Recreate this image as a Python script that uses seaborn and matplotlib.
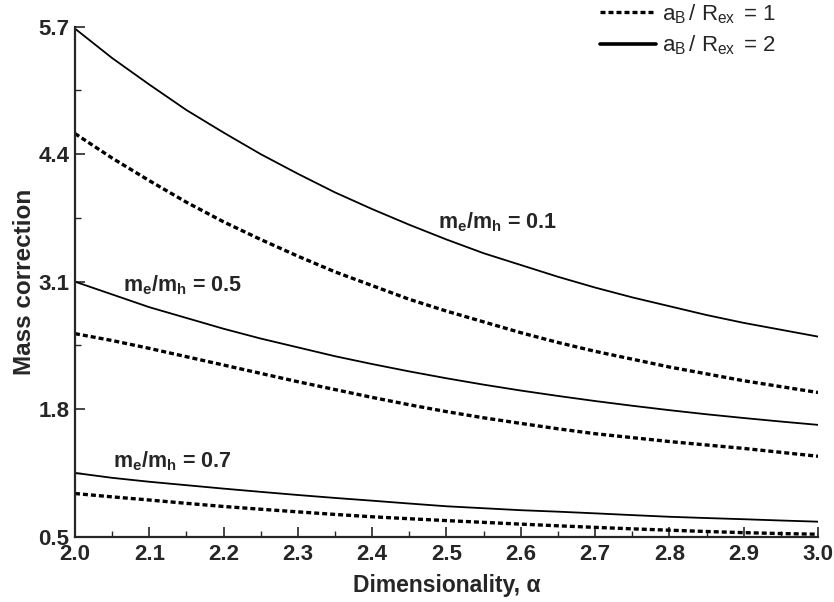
import matplotlib
matplotlib.use("Agg")
import matplotlib.pyplot as plt
import pandas as pd
import numpy as np
import seaborn as sns
from matplotlib.lines import Line2D
from matplotlib.ticker import MultipleLocator, FixedLocator, FormatStrFormatter

# data (every 0.05 in alpha)
alpha = [2.00, 2.05, 2.10, 2.15, 2.20, 2.25, 2.30, 2.35, 2.40, 2.45, 2.50,
         2.55, 2.60, 2.65, 2.70, 2.75, 2.80, 2.85, 2.90, 2.95, 3.00]

# m_e/m_h = 0.1
r01_ab2 = [5.68, 5.38, 5.11, 4.85, 4.62, 4.40, 4.20, 4.01, 3.84, 3.68, 3.53,
           3.39, 3.27, 3.15, 3.04, 2.94, 2.85, 2.76, 2.68, 2.61, 2.54]
r01_ab1 = [4.61, 4.36, 4.13, 3.91, 3.71, 3.53, 3.36, 3.20, 3.06, 2.92, 2.80,
           2.69, 2.58, 2.48, 2.39, 2.31, 2.23, 2.16, 2.09, 2.03, 1.97]
# m_e/m_h = 0.5
r05_ab2 = [3.10, 2.97, 2.84, 2.73, 2.62, 2.52, 2.43, 2.34, 2.26, 2.185, 2.115,
           2.05, 1.99, 1.935, 1.883, 1.835, 1.79, 1.748, 1.71, 1.674, 1.64]
r05_ab1 = [2.57, 2.50, 2.42, 2.335, 2.25, 2.165, 2.08, 2.00, 1.92, 1.845, 1.775,
           1.712, 1.655, 1.60, 1.55, 1.51, 1.47, 1.435, 1.40, 1.36, 1.32]
# m_e/m_h = 0.7
r07_ab2 = [1.15, 1.10, 1.06, 1.025, 0.99, 0.957, 0.925, 0.895, 0.867, 0.838, 0.81,
           0.79, 0.77, 0.755, 0.738, 0.72, 0.703, 0.69, 0.678, 0.665, 0.653]
r07_ab1 = [0.94, 0.906, 0.874, 0.84, 0.808, 0.78, 0.753, 0.727, 0.703, 0.683, 0.664,
           0.646, 0.628, 0.611, 0.595, 0.58, 0.566, 0.553, 0.541, 0.532, 0.525]

yticks = [0.5, 1.8, 3.1, 4.4, 5.7]

curves = {
    ("0.1", "2"): r01_ab2, ("0.1", "1"): r01_ab1,
    ("0.5", "2"): r05_ab2, ("0.5", "1"): r05_ab1,
    ("0.7", "2"): r07_ab2, ("0.7", "1"): r07_ab1,
}

rows = []
for (ratio, ab), vals in curves.items():
    for a, v in zip(alpha, vals):
        rows.append({"alpha": a, "mass": v, "ratio": ratio, "ab": ab})
df = pd.DataFrame(rows)

sns.set_style("ticks")
plt.rcParams['font.family'] = ['Liberation Sans', 'DejaVu Sans']
plt.rcParams['mathtext.fontset'] = 'custom'
plt.rcParams['mathtext.rm'] = 'Liberation Sans'
plt.rcParams['mathtext.bf'] = 'Liberation Sans:bold'
plt.rcParams['mathtext.it'] = 'Liberation Sans:italic'

fig = plt.figure(figsize=(8.34, 6.02), dpi=100)
ax = fig.add_axes([0.0899, 0.1085, 0.8909, 0.8472])

dash = (0, (1.5, 0.9))
for (ratio, ab), grp in df.groupby(["ratio", "ab"]):
    if ab == "2":
        sns.lineplot(data=grp, x="alpha", y="mass", color="black", lw=1.3, ax=ax)
    else:
        sns.lineplot(data=grp, x="alpha", y="mass", color="black", lw=2.4,
                     ax=ax, linestyle=dash)

ax.set_xlim(2.0, 3.0)
ax.set_ylim(0.5, 5.7)
ax.xaxis.set_major_locator(MultipleLocator(0.1))
ax.xaxis.set_minor_locator(MultipleLocator(0.05))
ax.xaxis.set_major_formatter(FormatStrFormatter('%.1f'))
ax.yaxis.set_major_locator(FixedLocator(yticks))
ax.yaxis.set_minor_locator(FixedLocator([(a + b) / 2 for a, b in zip(yticks[:-1], yticks[1:])]))
ax.yaxis.set_major_formatter(FormatStrFormatter('%.1f'))

ax.tick_params(which='major', direction='in', length=7, width=1.2, labelsize=16)
ax.tick_params(which='minor', direction='in', length=4, width=1.0)
ax.tick_params(axis='x', which='major', pad=5)
ax.tick_params(axis='y', which='major', pad=4)
for lab in ax.get_xticklabels() + ax.get_yticklabels():
    lab.set_fontweight('bold')

sns.despine(ax=ax)
for s in ['left', 'bottom']:
    ax.spines[s].set_linewidth(1.6)

ax.set_xlabel('Dimensionality, α', fontsize=16.5, fontweight='bold')
ax.set_ylabel('Mass correction', fontsize=17.5, fontweight='bold')
ax.xaxis.set_label_coords(0.5, -0.074)
ax.yaxis.set_label_coords(-0.052, 0.5)

lab_kw = dict(fontsize=15.5, fontweight='bold', va='center', ha='left')
ax.text(2.489, 3.71, r'm$_\mathbf{e}$/m$_\mathbf{h}$ = 0.1', **lab_kw)
ax.text(2.065, 3.06, r'm$_\mathbf{e}$/m$_\mathbf{h}$ = 0.5', **lab_kw)
ax.text(2.051, 1.265, r'm$_\mathbf{e}$/m$_\mathbf{h}$ = 0.7', **lab_kw)

handles = [
    Line2D([], [], color='black', lw=2.4, linestyle=dash),
    Line2D([], [], color='black', lw=2.6),
]
labels = [r'a$_{\rm B}\,$/ R$_{\rm ex}\,$ = 1', r'a$_{\rm B}\,$/ R$_{\rm ex}\,$ = 2']
fig.legend(handles, labels, loc='upper left', bbox_to_anchor=(598 / 834, 1.0),
           frameon=False, fontsize=16, handlelength=2.5, handletextpad=0.3,
           labelspacing=0.35, borderpad=0.1, borderaxespad=0.0)

fig.savefig("out.png", dpi=100)
